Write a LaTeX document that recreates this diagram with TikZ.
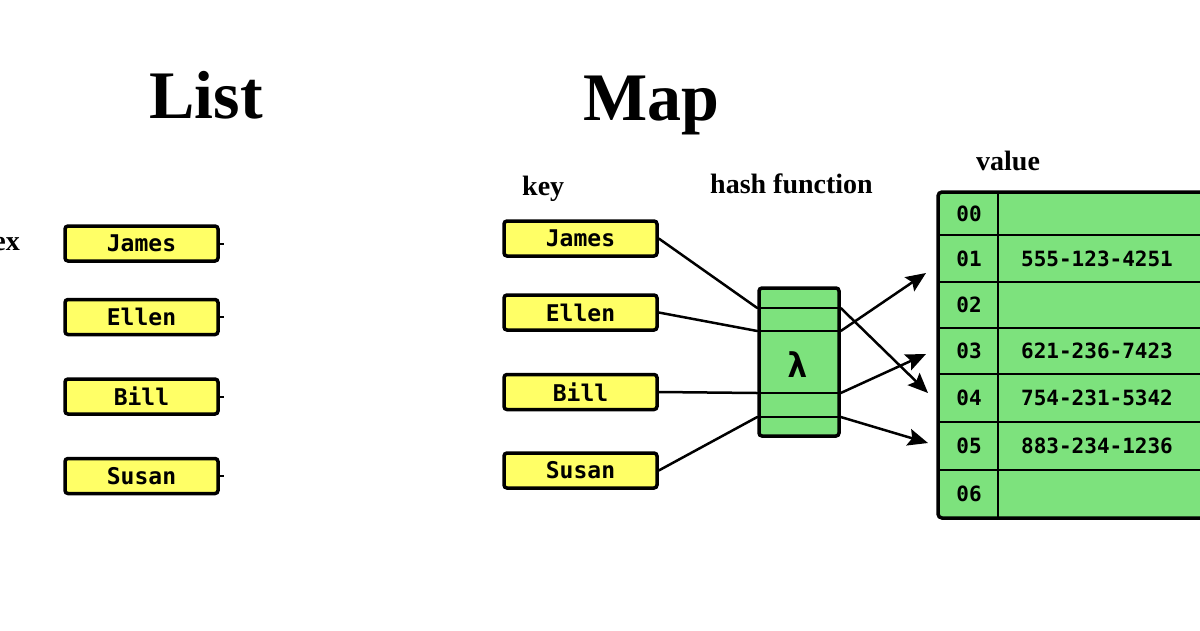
\documentclass[tikz,border=0pt]{standalone}
\usepackage{fontspec}
\setmainfont{Liberation Serif}
\newfontfamily\monofont{DejaVu Sans Mono}
\usetikzlibrary{arrows.meta}
\definecolor{boxyellow}{RGB}{255,255,102}
\definecolor{boxgreen}{RGB}{125,226,125}
\begin{document}
\begin{tikzpicture}[x=1pt,y=-1pt,
  keybox/.style={draw=black, fill=boxyellow, line width=3.5pt, rounded corners=3pt,
    minimum width=153pt, minimum height=35pt, inner sep=0pt,
    font=\monofont\bfseries\fontsize{23}{23}\selectfont},
  hashbox/.style={draw=black, fill=boxgreen, line width=3.5pt, rounded corners=3pt,
    minimum width=80pt, minimum height=148pt, inner sep=0pt},
  celltext/.style={font=\monofont\bfseries\fontsize{21}{21}\selectfont, inner sep=0pt},
  label/.style={font=\bfseries\fontsize{28}{28}\selectfont, inner sep=0pt},
  title/.style={font=\bfseries\fontsize{68}{68}\selectfont, inner sep=0pt},
  conn/.style={line width=2.5pt},
  arr/.style={line width=2.5pt, -{Stealth[length=20pt,width=17pt,inset=3.5pt]}},
  tick/.style={line width=2pt}]
\useasboundingbox (0,0) rectangle (1200,630);
\fill[white] (0,0) rectangle (1200,630);

% titles
\node[title, anchor=base] (tlist) at (206,118) {List};
\node[title, anchor=base] (tmap) at (651,120) {Map};
\node[label, anchor=base east] (idx) at (20,250) {ex};
\node[label, anchor=base west] (lkey) at (522,195) {key};
\node[label, anchor=base west] (lhash) at (710,193) {hash function};
\node[label, anchor=base west] (lval) at (976,170) {value};

% list boxes
\node[keybox] (la) at (141.5,243.5) {James};
\node[keybox] (lb) at (141.5,317) {Ellen};
\node[keybox] (lc) at (141.5,396.5) {Bill};
\node[keybox] (ld) at (141.5,476) {Susan};
\foreach \n in {la,lb,lc,ld}{\draw[tick] (\n.east) -- ++(4,0);}

% map keys
\node[keybox] (ka) at (580.5,238.5) {James};
\node[keybox] (kb) at (580.5,312.5) {Ellen};
\node[keybox] (kc) at (580.5,392) {Bill};
\node[keybox] (kd) at (580.5,470.5) {Susan};

% hash function
\node[hashbox] (hash) at (799,362) {};
\foreach \yy/\nm in {308/1,331/2,393/3,417/4}{
  \coordinate (hw\nm) at (hash.west |- 0,\yy);
  \coordinate (he\nm) at (hash.east |- 0,\yy);
  \draw[conn] (hw\nm) -- (he\nm);
}
\node[font=\monofont\bfseries\fontsize{34}{34}\selectfont, inner sep=0pt] (lam) at (798,365) {λ};

\draw[conn] (ka.east) -- (hw1);
\draw[conn] (kb.east) -- (hw2);
\draw[conn] (kc.east) -- (hw3);
\draw[conn] (kd.east) -- (hw4);

% table
\filldraw[fill=boxgreen, draw=black, line width=3.5pt, rounded corners=4pt] (938,192) rectangle (1220,518);
\draw[line width=2.5pt] (998,192) -- (998,518);
\foreach \yy in {235,282,328,374,422,470}{\draw[line width=2.5pt] (938,\yy) -- (1220,\yy);}
\node[celltext] (i0) at (969,214) {00};
\node[celltext] (i1) at (969,259) {01};
\node[celltext] (i2) at (969,305) {02};
\node[celltext] (i3) at (969,351) {03};
\node[celltext] (i4) at (969,398) {04};
\node[celltext] (i5) at (969,446) {05};
\node[celltext] (i6) at (969,494) {06};
\node[celltext] (v1) at (1097,259) {555-123-4251};
\node[celltext] (v3) at (1097,351) {621-236-7423};
\node[celltext] (v4) at (1097,398) {754-231-5342};
\node[celltext] (v5) at (1097,446) {883-234-1236};

\coordinate (t1) at (926,273);
\coordinate (t3) at (926,354);
\coordinate (t4) at (928,393);
\coordinate (t5) at (928,443);
\draw[arr] (he2) -- (t1);
\draw[arr] (he1) -- (t4);
\draw[arr] (he3) -- (t3);
\draw[arr] (he4) -- (t5);
\end{tikzpicture}
\end{document}
